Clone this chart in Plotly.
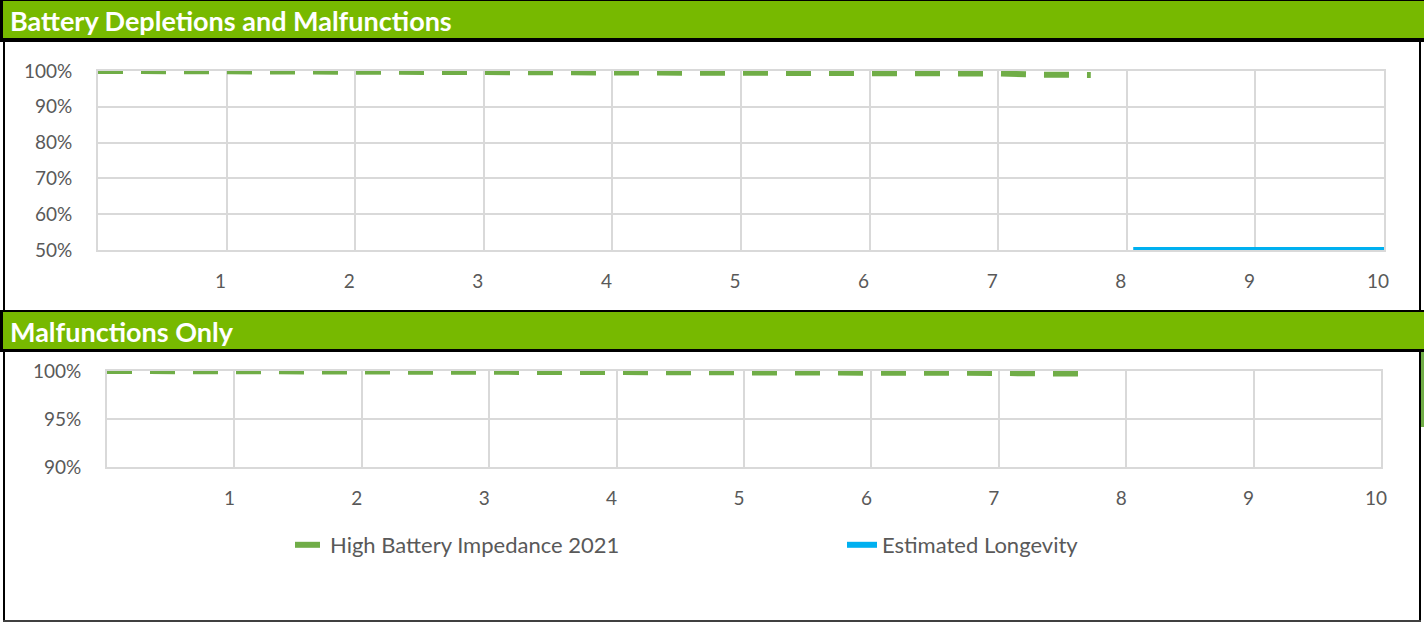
import plotly.graph_objects as go

# Survival probability vs. years since implant
years_all = [0, 1, 2, 3, 4, 5, 5.5, 6, 6.5, 7, 7.3, 7.72]
hbi_all = [1.0, 0.9995, 0.999, 0.9985, 0.998, 0.997, 0.996, 0.995, 0.9945, 0.993, 0.990, 0.989]

years_malf = [0, 1, 2, 3, 4, 5, 6, 7, 7.3, 7.72]
hbi_malf = [1.0, 0.9999, 0.9997, 0.9995, 0.9993, 0.999, 0.9987, 0.998, 0.9975, 0.9972]

longevity_years = [8.05, 10]
longevity_vals = [0.5, 0.5]

x_ticks = [1, 2, 3, 4, 5, 6, 7, 8, 9, 10]
panel_titles = ["Battery Depletions and Malfunctions", "Malfunctions Only"]
series_names = ["High Battery Impedance 2021", "Estimated Longevity"]

W, H = 1424, 622
GREEN = "#70AD47"
BLUE = "#00B0F0"
HEAD = "#77B900"
GRID = "#D9D9D9"
TXT = "#595959"
FONT = "Lato"
DASH = "25px,18px"


def px(x):
    return x / W


def py(y):
    return 1 - y / H


fig = go.Figure()

fig.add_trace(go.Scatter(
    x=years_all, y=hbi_all, mode="lines", name=series_names[0],
    line=dict(color=GREEN, width=6, dash=DASH),
    xaxis="x", yaxis="y", legend="legend"))
fig.add_trace(go.Scatter(
    x=longevity_years, y=longevity_vals, mode="lines", name=series_names[1],
    line=dict(color=BLUE, width=6),
    xaxis="x", yaxis="y", legend="legend2", cliponaxis=False))
fig.add_trace(go.Scatter(
    x=years_malf, y=hbi_malf, mode="lines", name=series_names[0],
    line=dict(color=GREEN, width=6, dash=DASH),
    xaxis="x2", yaxis="y2", showlegend=False))
fig.add_trace(go.Scatter(
    x=longevity_years, y=longevity_vals, mode="lines", name=series_names[1],
    line=dict(color=BLUE, width=6),
    xaxis="x2", yaxis="y2", showlegend=False))

axis_common = dict(
    showgrid=True, gridcolor=GRID, gridwidth=2,
    showline=True, linecolor=GRID, linewidth=2, mirror=True,
    zeroline=False, ticks="", fixedrange=True, automargin=False,
    tickfont=dict(family=FONT, size=19, color=TXT),
)

fig.update_layout(
    width=W, height=H,
    margin=dict(l=0, r=0, t=0, b=0, pad=0, autoexpand=False),
    paper_bgcolor="white", plot_bgcolor="white",
    font=dict(family=FONT, color=TXT),
    xaxis=dict(domain=[px(98), px(1384)], range=[0, 10], tickvals=x_ticks,
               anchor="y", ticklabelstandoff=13, ticklabelshift=-6, **axis_common),
    yaxis=dict(domain=[py(250), py(71)], range=[0.5, 1.0], dtick=0.1,
               tickformat=".0%", anchor="x", ticklabelstandoff=20, **axis_common),
    xaxis2=dict(domain=[px(107), px(1381)], range=[0, 10], tickvals=x_ticks,
                anchor="y2", ticklabelstandoff=13, ticklabelshift=-5, **axis_common),
    yaxis2=dict(domain=[py(467), py(371)], range=[0.9, 1.0], dtick=0.05,
                tickformat=".0%", anchor="x2", ticklabelstandoff=20, **axis_common),
    legend=dict(x=px(290), y=py(545), xanchor="left", yanchor="middle",
                orientation="h", font=dict(family=FONT, size=22, color=TXT),
                bgcolor="rgba(0,0,0,0)"),
    legend2=dict(x=px(842), y=py(545), xanchor="left", yanchor="middle",
                 orientation="h", font=dict(family=FONT, size=22, color=TXT),
                 bgcolor="rgba(0,0,0,0)"),
)

shapes = []


def rect(x0, y0, x1, y1, color):
    shapes.append(dict(type="rect", xref="paper", yref="paper",
                       x0=px(x0), x1=px(x1), y0=py(y1), y1=py(y0),
                       fillcolor=color, line=dict(width=0), layer="below"))


# header bands with black frame
rect(0, 0, W, 42, "black")
rect(3, 1, W, 38, HEAD)
rect(0, 310, W, 352, "black")
rect(3, 312, W, 349, HEAD)
# panel borders
rect(3, 41, 5, 311, "black")
rect(1419, 41, 1421, 311, "black")
rect(3, 351, 5, H, "black")
rect(1419, 351, 1421, H, "black")
rect(1421, 352, W, 427, GREEN)
rect(3, 620, 1421, H, "#404040")

fig.update_layout(shapes=shapes)

for title, yc in zip(panel_titles, [20, 331]):
    fig.add_annotation(text="<b>" + title + "</b>", xref="paper", yref="paper",
                       x=px(8), y=py(yc), xanchor="left", yanchor="middle",
                       showarrow=False,
                       font=dict(family=FONT, size=27, color="white"))

fig.write_html("out.html", post_script="document.body.style.margin='0';")
